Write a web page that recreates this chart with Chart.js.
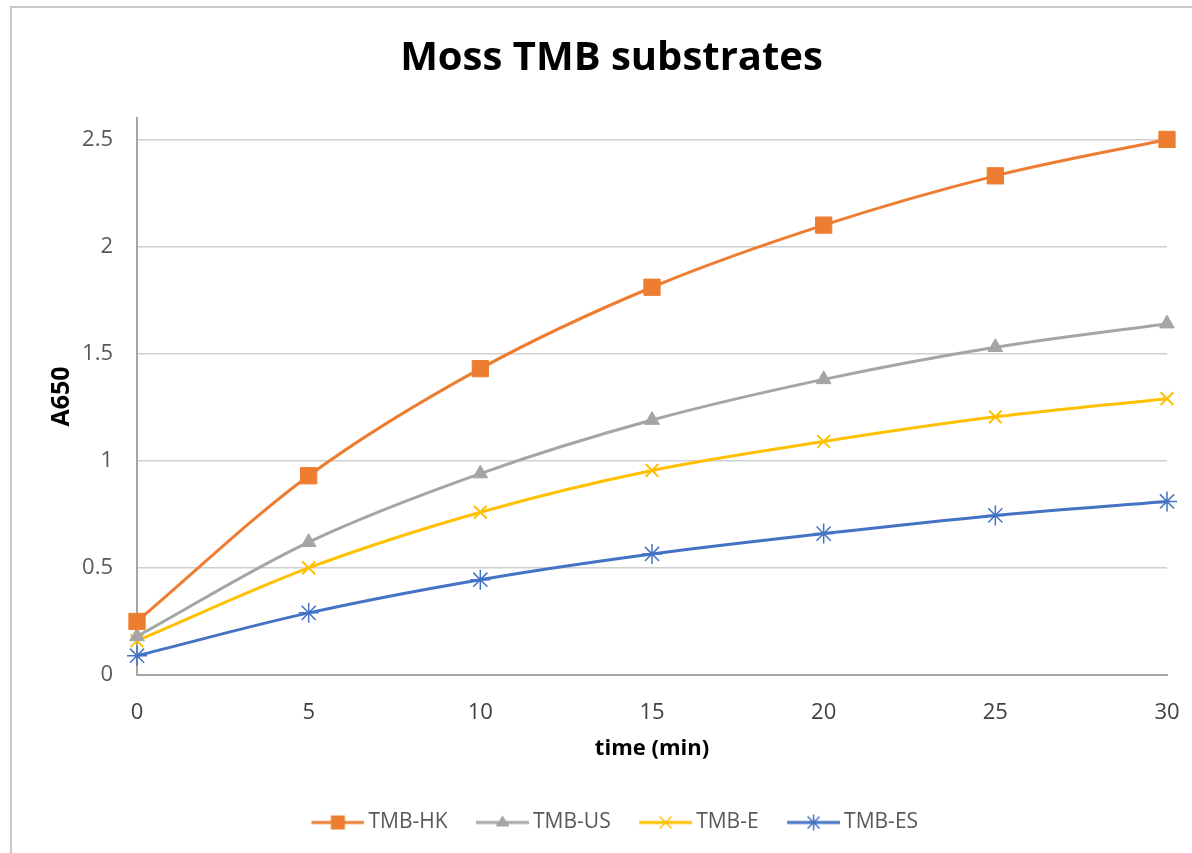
<!DOCTYPE html>
<html>
<head>
<meta charset="utf-8">
<script src="https://cdn.jsdelivr.net/npm/chart.js@4/dist/chart.umd.min.js"></script>
<style>
html,body{margin:0;padding:0;background:#fff;overflow:hidden;}
#wrap{position:absolute;left:0;top:0;width:1192px;height:853px;overflow:hidden;}
#frame{position:absolute;left:10px;top:6px;width:1250px;height:900px;border-left:2px solid #c8c8c8;border-top:2px solid #c8c8c8;box-sizing:border-box;pointer-events:none;}
canvas{position:absolute;left:0;top:0;}
</style>
</head>
<body>
<div id="wrap"><canvas id="c" width="1212" height="853"></canvas><div id="frame"></div></div>
<script>
const times = [0, 5, 10, 15, 20, 25, 30];
const tmbHK = [0.25, 0.93, 1.43, 1.81, 2.10, 2.33, 2.50];
const tmbUS = [0.18, 0.62, 0.94, 1.19, 1.38, 1.53, 1.64];
const tmbE  = [0.16, 0.50, 0.76, 0.955, 1.09, 1.205, 1.29];
const tmbES = [0.09, 0.29, 0.445, 0.565, 0.66, 0.745, 0.81];
const seriesNames = ['TMB-HK', 'TMB-US', 'TMB-E', 'TMB-ES'];
const yTicks = [0, 0.5, 1, 1.5, 2, 2.5];

const colors = ['#ED7D31', '#A5A5A5', '#FFC000', '#4472C4'];
const styles = ['rect', 'triangle', 'crossRot', 'star'];
const radii = [11.5, 8.5, 9, 10];
const pbw = [1, 1, 2, 1.5];

function pts(arr){ return times.map((t,i)=>({x:t,y:arr[i]})); }
const allData = [tmbHK, tmbUS, tmbE, tmbES];

// legend icon: line with marker; transparent margin on left so text gap is small
function legendIcon(i){
  const cv = document.createElement('canvas');
  cv.width = 66; cv.height = 20;
  const g = cv.getContext('2d');
  const x0 = 13, x1 = 66, cx = (x0 + x1) / 2;
  g.strokeStyle = colors[i]; g.lineWidth = 3;
  g.beginPath(); g.moveTo(x0,10); g.lineTo(x1,10); g.stroke();
  g.fillStyle = colors[i];
  const s = styles[i];
  if (s === 'rect'){ g.fillRect(cx-7,10-7,14,14); }
  else if (s === 'triangle'){ g.beginPath(); g.moveTo(cx,3); g.lineTo(cx+7,14); g.lineTo(cx-7,14); g.closePath(); g.fill(); }
  else if (s === 'crossRot'){ g.lineWidth=1.5; g.beginPath(); g.moveTo(cx-6,4); g.lineTo(cx+6,16); g.moveTo(cx+6,4); g.lineTo(cx-6,16); g.stroke(); }
  else { g.lineWidth=1.5; g.beginPath(); g.moveTo(cx,2); g.lineTo(cx,18); g.moveTo(cx-6,4); g.lineTo(cx+6,16); g.moveTo(cx+6,4); g.lineTo(cx-6,16); g.stroke(); }
  return cv;
}
const icons = [0,1,2,3].map(legendIcon);

const datasets = seriesNames.map((n,i)=>({
  label: n,
  data: pts(allData[i]),
  borderColor: colors[i],
  backgroundColor: colors[i],
  borderWidth: 3,
  pointStyle: styles[i],
  pointRadius: radii[i],
  pointBorderWidth: pbw[i],
  pointBackgroundColor: colors[i],
  pointBorderColor: colors[i],
  tension: 0.4,
  cubicInterpolationMode: 'monotone',
  clip: false
}));

new Chart(document.getElementById('c'), {
  type: 'line',
  data: { datasets },
  options: {
    responsive: false,
    animation: false,
    layout: { padding: { left: 11, right: 0, top: 7, bottom: 10 } },
    plugins: {
      title: {
        display: true, text: 'Moss TMB substrates', color: '#000',
        font: { family: 'Open Sans', size: 40, weight: 'bold' },
        padding: { top: 28, bottom: 35 }
      },
      legend: {
        position: 'bottom',
        labels: {
          usePointStyle: true,
          pointStyleWidth: 53,
          color: '#595959',
          font: { family: 'Open Sans', size: 21 },
          padding: 22,
          generateLabels: (chart) => seriesNames.map((n,i)=>({
            text: n, pointStyle: icons[i], fillStyle: colors[i], strokeStyle: colors[i],
            lineWidth: 0, datasetIndex: i, hidden: false, fontColor: '#595959'
          }))
        }
      },
      tooltip: { enabled: false }
    },
    scales: {
      x: {
        type: 'linear', min: 0, max: 30,
        ticks: { stepSize: 5, color: '#404040', font: { family: 'Open Sans', size: 22 }, padding: 25 },
        grid: { display: false, drawTicks: false },
        border: { display: true, color: '#a6a6a6', width: 2 },
        title: { display: true, text: 'time (min)', color: '#000', font: { family: 'Open Sans', size: 22, weight: 'bold' }, padding: { top: 0, bottom: 28 } },
        afterFit: (s) => { s.height = 115; s.paddingRight = 45; }
      },
      y: {
        min: 0, max: 2.6,
        afterBuildTicks: (s) => { s.ticks = yTicks.map(v => ({ value: v })); },
        ticks: { color: '#595959', font: { family: 'Open Sans', size: 22 }, padding: 24, callback: (v) => String(v) },
        grid: { color: '#d0d0d0', lineWidth: 1.5, drawTicks: false },
        border: { display: true, color: '#a6a6a6', width: 2 },
        title: { display: true, text: 'A650', color: '#000', font: { family: 'Open Sans', size: 25, weight: 'bold' }, padding: { top: 36, bottom: 0 } },
        afterFit: (s) => { s.width = 126; }
      }
    }
  }
});
</script>
</body>
</html>
